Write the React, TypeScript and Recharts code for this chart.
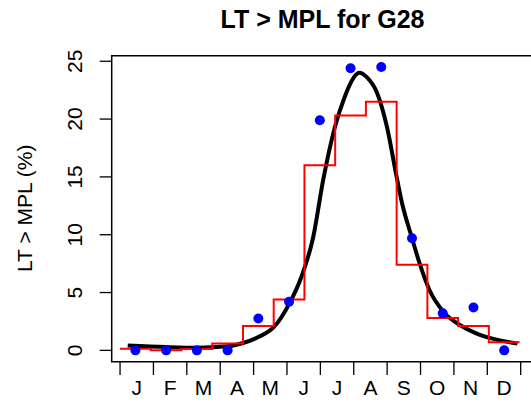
import React from "react";
import {
  ComposedChart,
  Line,
  Scatter,
  XAxis,
  YAxis,
  ReferenceArea,
} from "recharts";

// month labels and tick positions (days)
const months = ["J", "F", "M", "A", "M", "J", "J", "A", "S", "O", "N", "D"];
const monthEdges = [0, 1, 2, 3, 4, 5, 6, 7, 8, 9, 10, 11, 12].map((i) => (i * 365) / 12);
const monthMids = months.map((_, i) => ((i + 0.5) * 365) / 12);

// 4-week periods (red steps) and observed points (blue)
const periodStarts = [0, 28, 56, 84, 112, 140, 168, 196, 224, 252, 280, 308, 336, 364];
const periodValues = [0.15, 0.02, 0.12, 0.6, 2.1, 4.4, 16.0, 20.3, 21.5, 7.4, 2.8, 2.1, 0.7, 0.7];
const obsDays = [14, 42, 70, 98, 126, 154, 182, 210, 238, 266, 294, 322, 350];
const obsValues = [0, 0, 0, 0, 2.75, 4.2, 19.9, 24.4, 24.5, 9.7, 3.2, 3.7, 0];

// fitted curve
const fitDays = [7, 42, 70, 98, 112, 126, 140, 154, 165, 176, 185, 196, 205, 211, 218, 225, 234, 243, 252, 257, 266, 273, 282, 295, 310, 325, 343, 362];
const fitValues = [0.43, 0.29, 0.23, 0.35, 0.64, 1.15, 2.0, 4.0, 6.3, 9.8, 14.7, 19.4, 22.0, 23.3, 24.0, 23.6, 22.3, 19.4, 15.0, 12.7, 9.7, 7.5, 5.2, 3.3, 2.17, 1.45, 0.93, 0.6];

const yTicks = [0, 5, 10, 15, 20, 25];

const stepData = periodStarts.map((x, i) => ({ x, y: periodValues[i] }));
const obsData = obsDays.map((x, i) => ({ x, y: obsValues[i] }));
const fitData = fitDays.map((x, i) => ({ x, y: fitValues[i] }));

const xDomain: [number, number] = [-7.6, 376.5];
const yDomain: [number, number] = [-0.98, 25.48];

const FONT = "'Liberation Sans', Arial, Helvetica, sans-serif";
const PLOT_BOTTOM = 361.7;

function MonthTick(props: any) {
  const { x, payload } = props;
  const v = payload.value;
  const edge = monthEdges.findIndex((e) => Math.abs(e - v) < 1e-6);
  if (edge >= 0) {
    return <line x1={x} x2={x} y1={PLOT_BOTTOM} y2={375} stroke="#000" strokeWidth={1.3} />;
  }
  const m = monthMids.findIndex((e) => Math.abs(e - v) < 1e-6);
  return (
    <text x={x} y={395} textAnchor="middle" fontSize={21} fontFamily={FONT} fill="#000">
      {months[m]}
    </text>
  );
}

function ValueTick(props: any) {
  const { y, payload } = props;
  const bx = 81.7;
  return (
    <text
      x={bx}
      y={y}
      transform={`rotate(-90, ${bx}, ${y})`}
      textAnchor="middle"
      fontSize={21}
      fontFamily={FONT}
      fill="#000"
    >
      {payload.value}
    </text>
  );
}

const Dot = (props: any) => <circle cx={props.cx} cy={props.cy} r={5} fill="#0000FF" />;

export default function App() {
  return (
    <div style={{ position: "absolute", left: 0, top: 0, width: 531, height: 405, overflow: "hidden", background: "#fff" }}>
      <ComposedChart
        width={540}
        height={405}
        margin={{ top: 55.7, right: 6.7, left: 0, bottom: 0 }}
      >
        <XAxis
          dataKey="x"
          type="number"
          domain={xDomain}
          allowDataOverflow
          ticks={[...monthEdges, ...monthMids].sort((a, b) => a - b)}
          interval={0}
          height={405 - PLOT_BOTTOM}
          axisLine={false}
          tickLine={false}
          tick={<MonthTick />}
        />
        <YAxis
          type="number"
          domain={yDomain}
          allowDataOverflow
          ticks={yTicks}
          interval={0}
          width={111.7}
          axisLine={false}
          tickSize={12}
          tickLine={{ stroke: "#000", strokeWidth: 1.3 }}
          tick={<ValueTick />}
        />
        <ReferenceArea
          x1={xDomain[0]}
          x2={xDomain[1]}
          y1={yDomain[0]}
          y2={yDomain[1]}
          fill="none"
          fillOpacity={0}
          stroke="#000"
          strokeWidth={1.5}
        />
        <Line
          data={fitData}
          dataKey="y"
          type="monotone"
          stroke="#000"
          strokeWidth={4}
          dot={false}
          isAnimationActive={false}
        />
        <Line
          data={stepData}
          dataKey="y"
          type="stepAfter"
          stroke="#FF0000"
          strokeWidth={2}
          dot={false}
          isAnimationActive={false}
        />
        <Scatter data={obsData} dataKey="y" shape={<Dot />} isAnimationActive={false} />
      </ComposedChart>
      <svg width={531} height={405} style={{ position: "absolute", left: 0, top: 0, pointerEvents: "none" }}>
        <text x={322.5} y={28.3} textAnchor="middle" fontSize={25} fontWeight="bold" fontFamily={FONT} fill="#000">
          LT &gt; MPL for G28
        </text>
        <text
          x={31.7}
          y={208.3}
          transform="rotate(-90, 31.7, 208.3)"
          textAnchor="middle"
          fontSize={21}
          fontFamily={FONT}
          fill="#000"
        >
          LT &gt; MPL (%)
        </text>
      </svg>
    </div>
  );
}
